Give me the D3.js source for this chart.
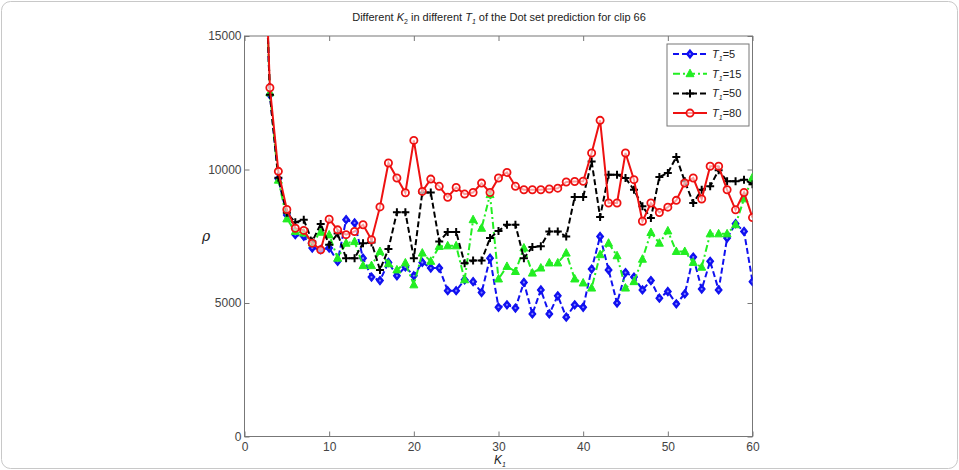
<!DOCTYPE html>
<html>
<head>
<meta charset="utf-8">
<script src="https://cdn.jsdelivr.net/npm/d3@7"></script>
<style>
  body { margin: 0; background: #fff; }
  svg { font-family: "Liberation Sans", Arial, sans-serif; }
  .tick text { fill: #444; font-size: 12px; }
</style>
</head>
<body>
<svg id="chart" width="959" height="470"></svg>
<script>
// K1 values (K=2 point sits above the visible range)
const kValues = d3.range(2, 61);

// rho for T1 = 5
const t5 = [22000, 12800, 9650, 8300, 7560, 7500, 7060, 7000, 7060, 6560, 8120, 8000, 6680, 5970, 5840,
  6520, 6020, 6350, 6020, 6520, 6310, 6310, 5460, 5460, 5870, 5800, 5390, 6680, 4840, 4930,
  4810, 5770, 4590, 5490, 4590, 5270, 4470, 4930, 4840, 6270, 7490, 6240, 5000, 6140, 5970,
  5490, 5840, 5180, 5430, 4970, 5340, 6720, 5520, 6560, 5490, 7430, 7970, 7680, 5800];

// rho for T1 = 15
const t15 = [22000, 12870, 9600, 8150, 7680, 7620, 7250, 7650, 7550, 6680, 7240, 7300, 6400, 6400, 6930,
  6470, 6240, 6500, 5680, 6870, 6560, 7120, 7140, 7140, 5870, 8120, 7800, 9060, 5900, 6370,
  6180, 7060, 6120, 6310, 6500, 6500, 6870, 5900, 5750, 5560, 6810, 7240, 6770, 5560, 5800,
  6640, 7640, 7240, 7700, 6930, 6930, 6520, 6340, 7590, 7590, 7590, 7930, 8900, 9700];

// rho for T1 = 50
const t50 = [22000, 12800, 9690, 8380, 8020, 8120, 7300, 7960, 7180, 7600, 6680, 6680, 7240, 7270, 6240,
  7020, 8400, 8400, 6680, 9140, 9140, 7300, 7660, 7660, 6490, 6590, 6590, 7430, 7700, 7930,
  7930, 6680, 7100, 7130, 7680, 7680, 7490, 8970, 8970, 10300, 8220, 9800, 9800, 9680, 9240,
  8620, 8180, 9720, 9870, 10470, 9560, 8745, 9240, 9370, 9970, 9560, 9560, 9620, 9450];

// rho for T1 = 80
const t80 = [22000, 13060, 9930, 8500, 7800, 7720, 7240, 6990, 8140, 7740, 7560, 7680, 7930, 7370, 8600,
  10245, 9680, 9130, 11090, 9180, 9640, 9370, 8960, 9330, 9080, 9140, 9490, 9140, 9680, 9890,
  9370, 9240, 9240, 9240, 9270, 9300, 9530, 9550, 9560, 10620, 11840, 8745, 8745, 10620, 9620,
  8060, 8745, 8390, 8590, 8845, 9495, 9680, 8895, 10120, 10120, 9240, 8490, 9140, 8200];

const seriesNames = ["5", "15", "50", "80"];
const seriesValues = [t5, t15, t50, t80];

const xTicks = [0, 10, 20, 30, 40, 50, 60];
const yTicks = [0, 5000, 10000, 15000];

const styles = [
  { color: "#1010f0", dash: "6,3", marker: "diamond" },
  { color: "#22ee22", dash: "7,3,2,3", marker: "triangle" },
  { color: "#000000", dash: "6,3", marker: "plus" },
  { color: "#ee1111", dash: null, marker: "circle" }
];

const svg = d3.select("#chart");
const plotLeft = 244.5, plotRight = 752.5, plotTop = 36, plotBottom = 436.5;

// outer rounded frame
svg.append("rect")
  .attr("x", 1.5).attr("y", 1.5).attr("width", 956).attr("height", 467)
  .attr("rx", 9).attr("fill", "none").attr("stroke", "#c8c8c8");

const x = d3.scaleLinear().domain([0, 60]).range([plotLeft, plotRight]);
const y = d3.scaleLinear().domain([0, 15000]).range([plotBottom, plotTop]);

svg.append("defs").append("clipPath").attr("id", "plotclip")
  .append("rect").attr("x", plotLeft).attr("y", plotTop)
  .attr("width", plotRight - plotLeft).attr("height", plotBottom - plotTop);

// axes (ticks inside, MATLAB style)
const axisColor = "#777";
const fmt = d3.format("d");
const bx = svg.append("g").attr("transform", `translate(0,${plotBottom})`)
  .call(d3.axisBottom(x).tickValues(xTicks).tickFormat(fmt).tickSizeInner(-5).tickSizeOuter(0).tickPadding(6));
const tx = svg.append("g").attr("transform", `translate(0,${plotTop})`)
  .call(d3.axisTop(x).tickValues(xTicks).tickSizeInner(-5).tickSizeOuter(0).tickFormat(""));
const ly = svg.append("g").attr("transform", `translate(${plotLeft},0)`)
  .call(d3.axisLeft(y).tickValues(yTicks).tickFormat(fmt).tickSizeInner(-5).tickSizeOuter(0).tickPadding(3));
const ry = svg.append("g").attr("transform", `translate(${plotRight},0)`)
  .call(d3.axisRight(y).tickValues(yTicks).tickSizeInner(-5).tickSizeOuter(0).tickFormat(""));
[bx, tx, ly, ry].forEach(g => {
  g.selectAll(".domain").remove();
  g.selectAll(".tick line").attr("stroke", axisColor);
});
svg.append("rect").attr("x", plotLeft).attr("y", plotTop)
  .attr("width", plotRight - plotLeft).attr("height", plotBottom - plotTop)
  .attr("fill", "none").attr("stroke", axisColor).attr("stroke-width", 1);

// series
const plot = svg.append("g").attr("clip-path", "url(#plotclip)");
const line = d3.line().x((d, i) => x(kValues[i])).y(d => y(d));

function drawMarker(g, type, color) {
  if (type === "diamond") {
    g.append("path").attr("d", "M0,-4.2L3.4,0L0,4.2L-3.4,0Z")
      .attr("fill", color).attr("stroke", color).attr("stroke-width", 1.2);
    g.append("circle").attr("r", 1.1).attr("fill", "#8080ff");
  } else if (type === "triangle") {
    g.append("path").attr("d", "M0,-4.5L4,3L-4,3Z")
      .attr("fill", color).attr("stroke", color).attr("stroke-width", 1);
  } else if (type === "plus") {
    g.append("path").attr("d", "M-4,0H4M0,-4V4")
      .attr("stroke", color).attr("stroke-width", 2);
  } else {
    g.append("circle").attr("r", 3.6)
      .attr("fill", "#fff").attr("fill-opacity", 0.6)
      .attr("stroke", color).attr("stroke-width", 1.8);
  }
}

seriesValues.forEach((vals, si) => {
  const st = styles[si];
  plot.append("path").datum(vals)
    .attr("d", line)
    .attr("fill", "none")
    .attr("stroke", st.color)
    .attr("stroke-width", 2)
    .attr("stroke-dasharray", st.dash);
  plot.selectAll(null).data(vals).join("g")
    .attr("transform", (d, i) => `translate(${x(kValues[i])},${y(d)})`)
    .each(function () { drawMarker(d3.select(this), st.marker, st.color); });
});

// legend
const legend = svg.append("g");
legend.append("rect").attr("x", 667).attr("y", 44).attr("width", 82).attr("height", 82)
  .attr("fill", "#fff").attr("stroke", "#777");
seriesNames.forEach((name, i) => {
  const st = styles[i];
  const ly0 = 54 + i * 19.7;
  legend.append("line").attr("x1", 673).attr("x2", 707).attr("y1", ly0).attr("y2", ly0)
    .attr("stroke", st.color).attr("stroke-width", 2).attr("stroke-dasharray", st.dash);
  drawMarker(legend.append("g").attr("transform", `translate(690,${ly0})`), st.marker, st.color);
  const t = legend.append("text").attr("x", 712).attr("y", ly0 + 4)
    .attr("font-size", 11).attr("fill", "#222");
  t.append("tspan").attr("font-style", "italic").text("T");
  t.append("tspan").attr("font-size", 7).attr("font-style", "italic").attr("dy", 3).text("1");
  t.append("tspan").attr("dy", -3).text("=" + name);
});

// title
const title = svg.append("text").attr("x", 499).attr("y", 21)
  .attr("text-anchor", "middle").attr("font-size", 11).attr("fill", "#222");
title.append("tspan").text("Different ");
title.append("tspan").attr("font-style", "italic").text("K");
title.append("tspan").attr("font-size", 7).attr("dy", 3).text("2");
title.append("tspan").attr("dy", -3).text(" in different ");
title.append("tspan").attr("font-style", "italic").text("T");
title.append("tspan").attr("font-size", 7).attr("font-style", "italic").attr("dy", 3).text("1");
title.append("tspan").attr("dy", -3).text(" of the Dot set prediction for clip 66");

// axis labels
const xl = svg.append("text").attr("x", 494).attr("y", 464)
  .attr("font-size", 12).attr("fill", "#222");
xl.append("tspan").attr("font-style", "italic").text("K");
xl.append("tspan").attr("font-size", 7).attr("font-style", "italic").attr("dy", 3).text("1");

svg.append("text").attr("x", 206).attr("y", 241)
  .attr("font-family", "'DejaVu Serif', serif").attr("font-style", "italic")
  .attr("font-size", 14).attr("fill", "#222").attr("text-anchor", "middle")
  .text("ρ");
</script>
</body>
</html>
